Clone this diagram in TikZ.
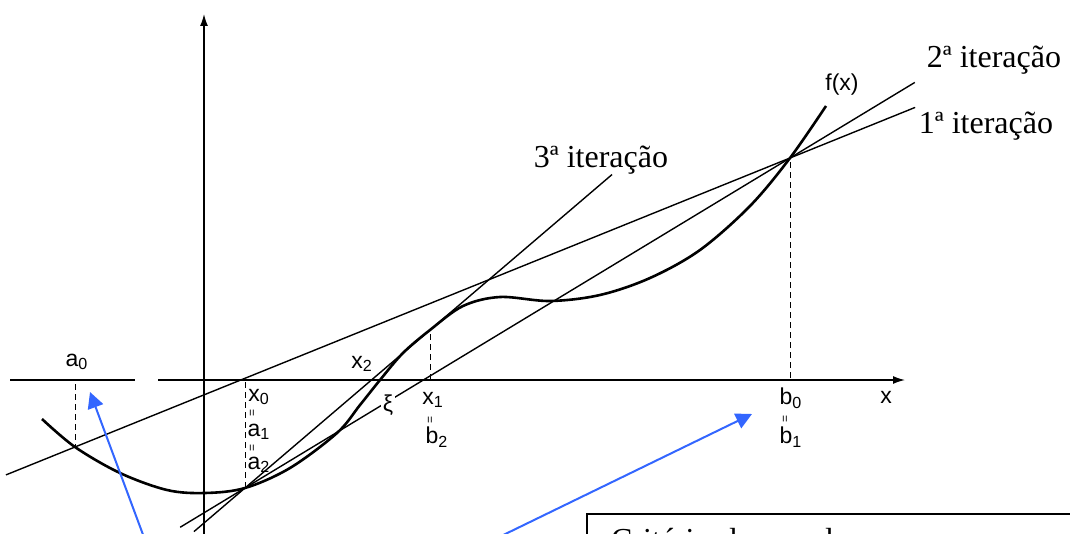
\documentclass[tikz,border=0pt]{standalone}
\usepackage{fontspec}
\setmainfont{Liberation Sans}
\newfontfamily\serifit{Liberation Serif}
\usepackage{tikz}
\usetikzlibrary{arrows.meta, positioning, calc}
\definecolor{hlblue}{RGB}{51,102,255}

\begin{document}
\begin{tikzpicture}[
    x=0.5pt, y=-0.5pt,
    axis/.style={line width=0.7pt, -{Latex[length=6pt, width=4pt]}},
    secant/.style={line width=0.7pt},
    guide/.style={line width=0.5pt, dash pattern=on 3pt off 2pt},
    fcurve/.style={line width=1.3pt},
    lbl/.style={font=\fontsize{11.5}{12}\selectfont, inner sep=0pt},
    iter/.style={font=\serifit\fontsize{16}{18}\selectfont, inner sep=0pt},
    eqmark/.style={rotate=90, font=\fontsize{6}{6}\selectfont, inner sep=0pt},
    pointer/.style={draw=hlblue, line width=1pt, -{Triangle[length=8pt, width=8pt]}},
]
    \useasboundingbox (0,0) rectangle (1070,534);

    % axes
    \coordinate (xstart)  at (10,380);
    \coordinate (xbreak)  at (135,380);
    \coordinate (xresume) at (158,380);
    \coordinate (xend)    at (905,380);
    \coordinate (ybot)    at (204,540);
    \coordinate (ytop)    at (204,14);
    \draw[line width=0.7pt] (xstart) -- (xbreak);
    \draw[axis] (xresume) -- (xend);
    \draw[axis] (ybot) -- (ytop);

    % points on f and their feet on the axis
    \coordinate (A0)   at (75,447);
    \coordinate (A1)   at (245,488);
    \coordinate (X1c)  at (430,330);
    \coordinate (B0)   at (790,158);
    \coordinate (a0ax) at (75,384);
    \coordinate (x0ax) at (245,382);
    \coordinate (x1ax) at (430,380);
    \coordinate (b0ax) at (790,378);

    \draw[fcurve] plot[smooth, tension=0.55] coordinates {
        (42,419) (75,447) (120,473) (167,490) (205,493) (245,488) (290,468)
        (337,433) (360,405) (380,380) (403,353) (430,330) (463,306) (500,297)
        (550,301) (600,295) (650,278) (700,250) (750,206) (790,158) (826,106)};

    % secants
    \draw[secant] ($(A0)!-0.0965!(B0)$) -- ($(A0)!1.175!(B0)$);
    \draw[secant] ($(A1)!-0.119!(B0)$)  -- ($(A1)!1.229!(B0)$);
    \draw[secant] ($(A1)!-0.276!(X1c)$) -- ($(A1)!1.984!(X1c)$);

    \draw[guide] (a0ax) -- (A0);
    \draw[guide] (x0ax) -- (A1);
    \draw[guide] (x1ax) -- (X1c);
    \draw[guide] (b0ax) -- (B0);

    % labels
    \node[lbl] (a0) at (77,362)  {a\textsubscript{0}};
    \node[lbl] (x0) at (259,397) {x\textsubscript{0}};
    \node[eqmark] (e1) at (253,413) {=};
    \node[lbl] (a1) at (259,432) {a\textsubscript{1}};
    \node[eqmark] (e2) at (253,448) {=};
    \node[lbl] (a2) at (259,465) {a\textsubscript{2}};
    \node[lbl] (x2) at (362,364) {x\textsubscript{2}};
    \node[lbl, fill=white, inner sep=1pt] (xi) at (388,405) {ξ};
    \node[lbl] (x1) at (433,400) {x\textsubscript{1}};
    \node[eqmark] (e3) at (431,420) {=};
    \node[lbl] (b2) at (437,437) {b\textsubscript{2}};
    \node[lbl] (b0) at (791,398) {b\textsubscript{0}};
    \node[eqmark] (e4) at (786,419) {=};
    \node[lbl] (b1) at (791,437) {b\textsubscript{1}};
    \node[lbl] (xlab) at (886,397) {x};
    \node[lbl] (fx) at (842,85) {f(x)};

    \node[iter] (it2) at (994,60)  {2ª iteração};
    \node[iter] (it1) at (986,126) {1ª iteração};
    \node[iter] (it3) at (601,160) {3ª iteração};

    % note box and pointers
    \node[draw, line width=1pt, anchor=north west, inner xsep=12pt, inner ysep=7pt,
          text width=226pt, align=left, font=\serifit\fontsize{16}{18}\selectfont]
          (note) at (586,513) {Critério de parada};
    \coordinate (p1s) at (145,540);
    \coordinate (p1e) at (90,392);
    \coordinate (p2s) at (493,540);
    \coordinate (p2e) at (752,414);
    \draw[pointer] (p1s) -- (p1e);
    \draw[pointer] (p2s) -- (p2e);
\end{tikzpicture}
\end{document}
